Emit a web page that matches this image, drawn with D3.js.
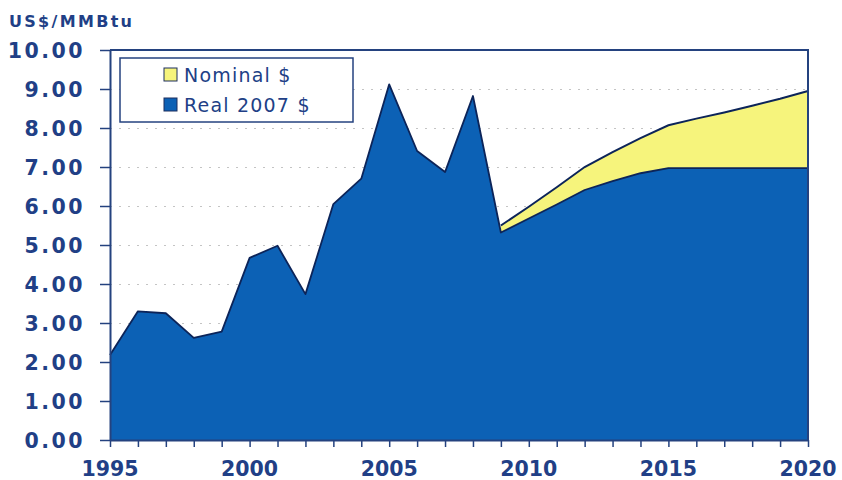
<html>
<head>
  <script src="https://d3js.org/d3.v7.min.js"></script>
  <style>
    body { margin: 0; background: #fff; }
    text { font-family: "DejaVu Sans", Verdana, sans-serif; fill: #213f86; }
    .tick-lab { font-weight: bold; font-size: 20.5px; }
  </style>
</head>
<body>
  <svg id="chart" width="842" height="480"></svg>
  <script>
    // values
    const years = d3.range(1995, 2021);
    const realPrice = [2.18, 3.3, 3.25, 2.62, 2.78, 4.67, 4.98, 3.74, 6.05, 6.7,
      9.12, 7.41, 6.87, 8.82, 5.32, 5.68, 6.04, 6.41, 6.64, 6.84,
      6.97, 6.97, 6.97, 6.97, 6.97, 6.97];
    const nominalYears = d3.range(2009, 2021);
    const nominalPrice = [5.5, 5.98, 6.48, 7.0, 7.38, 7.74, 8.07, 8.24, 8.4, 8.57, 8.75, 8.95];
    const yTicks = [0, 1, 2, 3, 4, 5, 6, 7, 8, 9, 10];
    const xLabels = [1995, 2000, 2005, 2010, 2015, 2020];
    const seriesNames = ["Nominal $", "Real 2007 $"];

    const svg = d3.select("#chart");
    const margin = { top: 50, left: 110, right: 34, bottom: 40 };
    const width = 842, height = 480;

    const x = d3.scaleLinear().domain([1995, 2020]).range([margin.left, width - margin.right]);
    const y = d3.scaleLinear().domain([0, 10]).range([height - margin.bottom, margin.top]);

    const realData = years.map((yr, i) => ({ year: yr, v: realPrice[i] }));
    const nomData = nominalYears.map((yr, i) => ({ year: yr, v: nominalPrice[i], r: realPrice[years.indexOf(yr)] }));

    // faint gridlines
    svg.append("g")
      .attr("transform", `translate(${margin.left},0)`)
      .call(d3.axisLeft(y).tickValues(yTicks.slice(1, -1)).tickSize(-(width - margin.left - margin.right)).tickFormat(""))
      .call(g => g.select(".domain").remove())
      .selectAll("line")
      .attr("stroke", "#c4c4c4")
      .attr("stroke-dasharray", "2,7")
      .attr("stroke-width", 1);

    // nominal band
    svg.append("path")
      .datum(nomData)
      .attr("fill", "#f6f47c")
      .attr("d", d3.area().x(d => x(d.year)).y0(d => y(d.r)).y1(d => y(d.v)));
    svg.append("path")
      .datum(nomData)
      .attr("fill", "none")
      .attr("stroke", "#0c2459")
      .attr("stroke-width", 2)
      .attr("d", d3.line().x(d => x(d.year)).y(d => y(d.v)));

    // real area
    svg.append("path")
      .datum(realData)
      .attr("fill", "#0c61b5")
      .attr("d", d3.area().x(d => x(d.year)).y0(y(0)).y1(d => y(d.v)));
    svg.append("path")
      .datum(realData)
      .attr("fill", "none")
      .attr("stroke", "#0c2459")
      .attr("stroke-width", 1.8)
      .attr("stroke-linejoin", "round")
      .attr("d", d3.line().x(d => x(d.year)).y(d => y(d.v)));

    // plot frame (top + right)
    svg.append("path")
      .attr("fill", "none")
      .attr("stroke", "#24427f")
      .attr("stroke-width", 2)
      .attr("d", `M${x(1995)},${y(10)}H${x(2020)}V${y(0)}`);

    // y axis
    const yAxis = svg.append("g")
      .attr("transform", `translate(${margin.left},0)`)
      .call(d3.axisLeft(y).tickValues(yTicks).tickSize(10).tickSizeOuter(0).tickPadding(15).tickFormat(d3.format(".2f")));
    yAxis.select(".domain").attr("stroke", "#24427f").attr("stroke-width", 2);
    yAxis.selectAll("line").attr("stroke", "#24427f").attr("stroke-width", 1.5);
    yAxis.selectAll("text")
      .attr("class", "tick-lab")
      .attr("font-family", null).attr("font-size", null)
      .style("letter-spacing", "2.5px")
      .attr("dy", "0.36em");

    // x axis
    const xAxis = svg.append("g")
      .attr("transform", `translate(0,${y(0)})`)
      .call(d3.axisBottom(x).tickValues(years).tickSize(7).tickSizeOuter(0).tickFormat(""));
    xAxis.select(".domain").attr("stroke", "#24427f").attr("stroke-width", 2);
    xAxis.selectAll("line").attr("stroke", "#24427f").attr("stroke-width", 1.5);

    svg.append("g").selectAll("text")
      .data(xLabels)
      .enter().append("text")
      .attr("class", "tick-lab")
      .attr("x", d => x(d))
      .attr("y", 476)
      .attr("text-anchor", "middle")
      .text(d => d);

    // unit label
    svg.append("text")
      .attr("x", 9)
      .attr("y", 27)
      .style("font-weight", "bold")
      .style("font-size", "16px")
      .style("letter-spacing", "2.3px")
      .text("US$/MMBtu");

    // legend
    const legend = svg.append("g");
    legend.append("rect")
      .attr("x", 120).attr("y", 58).attr("width", 233).attr("height", 64)
      .attr("fill", "#fff").attr("stroke", "#24427f").attr("stroke-width", 1.5);
    const legendColors = ["#f6f47c", "#0c61b5"];
    const items = legend.selectAll(".item")
      .data(seriesNames)
      .enter().append("g")
      .attr("transform", (d, i) => `translate(164,${68 + i * 30})`);
    items.append("rect")
      .attr("width", 13).attr("height", 13)
      .attr("fill", (d, i) => legendColors[i])
      .attr("stroke", "#1c2f5e").attr("stroke-width", 1);
    items.append("text")
      .attr("x", 20).attr("y", 14)
      .style("font-size", "19px")
      .style("letter-spacing", "1.2px")
      .text(d => d);
  </script>
</body>
</html>
